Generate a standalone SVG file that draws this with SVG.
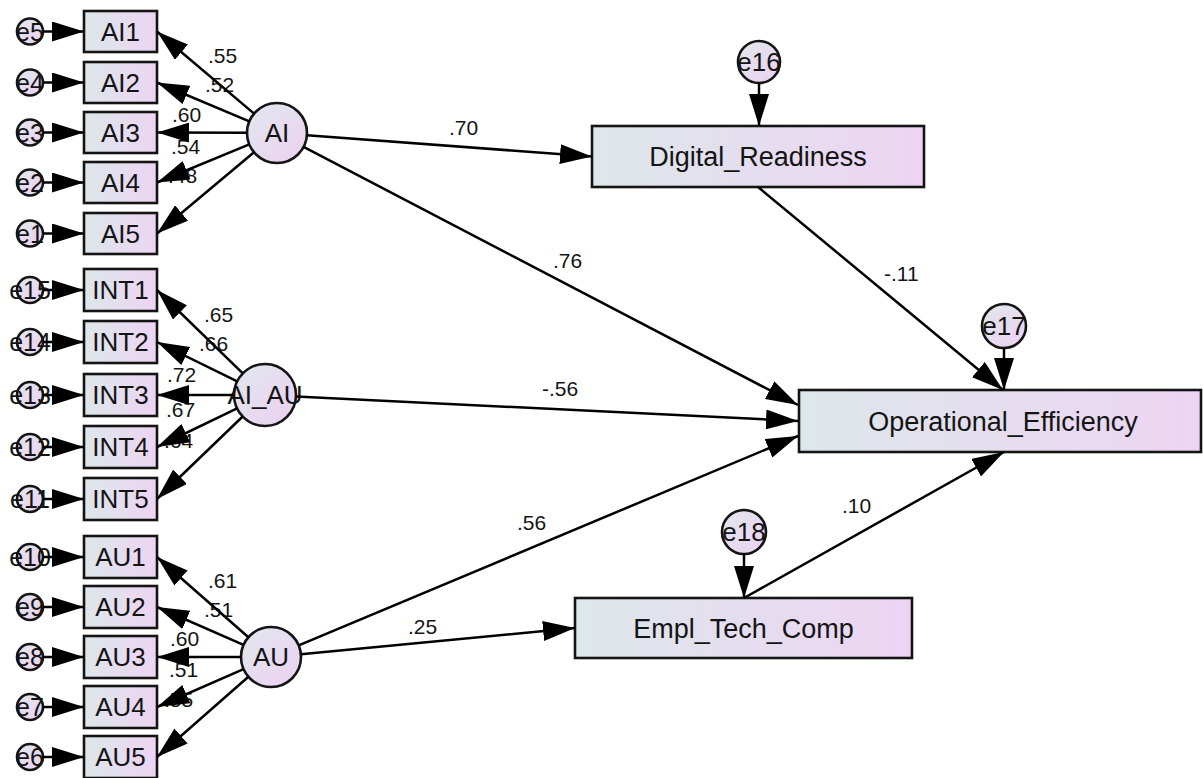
<svg xmlns="http://www.w3.org/2000/svg" width="1203" height="778" viewBox="0 0 1203 778">
  <defs>
    <linearGradient id="boxFill" x1="0" y1="0" x2="1" y2="0">
      <stop offset="0" stop-color="#dde7ea"/>
      <stop offset="1" stop-color="#edd4f3"/>
    </linearGradient>
    <linearGradient id="circFill" x1="0" y1="0" x2="1" y2="1">
      <stop offset="0" stop-color="#e1e8ee"/>
      <stop offset="1" stop-color="#ecd0f1"/>
    </linearGradient>
    <marker id="arrow" markerUnits="userSpaceOnUse" markerWidth="32" markerHeight="20" refX="32" refY="10" orient="auto">
      <path d="M0,0 L32,10 L0,20 Z" fill="#000"/>
    </marker>
    <style>
      .box { fill: url(#boxFill); stroke: #141414; stroke-width: 2.6; }
      .circ { fill: url(#circFill); stroke: #141414; stroke-width: 2.6; }
      .lbl { font-family: "Liberation Sans", Arial, sans-serif; font-size: 26px; fill: #141414; text-anchor: middle; }
      .big { font-family: "Liberation Sans", Arial, sans-serif; font-size: 27px; fill: #141414; text-anchor: middle; }
      .elbl { font-family: "Liberation Sans", Arial, sans-serif; font-size: 25px; fill: #141414; text-anchor: middle; }
      .coef { font-family: "Liberation Sans", Arial, sans-serif; font-size: 21px; fill: #141414; }
      .conn line { stroke: #000; stroke-width: 2.5; marker-end: url(#arrow); }
    </style>
  </defs>
  <rect width="1203" height="778" fill="#fff"/>

  <!-- AI indicators -->
  <g id="AI1"><rect class="box" x="84" y="11" width="73" height="41"/><text class="lbl" x="120.5" y="41">AI1</text></g>
  <g id="AI2"><rect class="box" x="84" y="62" width="73" height="41"/><text class="lbl" x="120.5" y="92">AI2</text></g>
  <g id="AI3"><rect class="box" x="84" y="112" width="73" height="41"/><text class="lbl" x="120.5" y="142">AI3</text></g>
  <g id="AI4"><rect class="box" x="84" y="162" width="73" height="41"/><text class="lbl" x="120.5" y="192">AI4</text></g>
  <g id="AI5"><rect class="box" x="84" y="213" width="73" height="41"/><text class="lbl" x="120.5" y="243">AI5</text></g>

  <!-- interaction indicators -->
  <g id="INT1"><rect class="box" x="84" y="269" width="73" height="42"/><text class="lbl" x="120.5" y="299">INT1</text></g>
  <g id="INT2"><rect class="box" x="84" y="321" width="73" height="42"/><text class="lbl" x="120.5" y="351">INT2</text></g>
  <g id="INT3"><rect class="box" x="84" y="374" width="73" height="42"/><text class="lbl" x="120.5" y="404">INT3</text></g>
  <g id="INT4"><rect class="box" x="84" y="426" width="73" height="42"/><text class="lbl" x="120.5" y="456">INT4</text></g>
  <g id="INT5"><rect class="box" x="84" y="478" width="73" height="42"/><text class="lbl" x="120.5" y="508">INT5</text></g>

  <!-- AU indicators -->
  <g id="AU1"><rect class="box" x="84" y="536" width="73" height="42"/><text class="lbl" x="120.5" y="566">AU1</text></g>
  <g id="AU2"><rect class="box" x="84" y="586" width="73" height="42"/><text class="lbl" x="120.5" y="616">AU2</text></g>
  <g id="AU3"><rect class="box" x="84" y="636" width="73" height="42"/><text class="lbl" x="120.5" y="666">AU3</text></g>
  <g id="AU4"><rect class="box" x="84" y="686" width="73" height="42"/><text class="lbl" x="120.5" y="716">AU4</text></g>
  <g id="AU5"><rect class="box" x="84" y="736" width="73" height="42"/><text class="lbl" x="120.5" y="766">AU5</text></g>

  <!-- indicator error terms -->
  <g id="e5"><circle class="circ" cx="30" cy="31.5" r="13"/><text class="elbl" x="30" y="40.5">e5</text></g>
  <g id="e4"><circle class="circ" cx="30" cy="82.5" r="13"/><text class="elbl" x="30" y="91.5">e4</text></g>
  <g id="e3"><circle class="circ" cx="30" cy="132.5" r="13"/><text class="elbl" x="30" y="141.5">e3</text></g>
  <g id="e2"><circle class="circ" cx="30" cy="182.5" r="13"/><text class="elbl" x="30" y="191.5">e2</text></g>
  <g id="e1"><circle class="circ" cx="30" cy="233.5" r="13"/><text class="elbl" x="30" y="242.5">e1</text></g>
  <g id="e15"><circle class="circ" cx="30" cy="290" r="13"/><text class="elbl" x="30" y="299">e15</text></g>
  <g id="e14"><circle class="circ" cx="30" cy="342" r="13"/><text class="elbl" x="30" y="351">e14</text></g>
  <g id="e13"><circle class="circ" cx="30" cy="395" r="13"/><text class="elbl" x="30" y="404">e13</text></g>
  <g id="e12"><circle class="circ" cx="30" cy="447" r="13"/><text class="elbl" x="30" y="456">e12</text></g>
  <g id="e11"><circle class="circ" cx="30" cy="499" r="13"/><text class="elbl" x="30" y="508">e11</text></g>
  <g id="e10"><circle class="circ" cx="30" cy="557" r="13"/><text class="elbl" x="30" y="566">e10</text></g>
  <g id="e9"><circle class="circ" cx="30" cy="607" r="13"/><text class="elbl" x="30" y="616">e9</text></g>
  <g id="e8"><circle class="circ" cx="30" cy="657" r="13"/><text class="elbl" x="30" y="666">e8</text></g>
  <g id="e7"><circle class="circ" cx="30" cy="707" r="13"/><text class="elbl" x="30" y="716">e7</text></g>
  <g id="e6"><circle class="circ" cx="30" cy="757" r="13"/><text class="elbl" x="30" y="766">e6</text></g>

  <!-- latent constructs -->
  <g id="AI"><circle class="circ" cx="277" cy="133" r="30"/><text class="lbl" x="277" y="142">AI</text></g>
  <g id="AI_AU"><circle class="circ" cx="265" cy="395" r="31"/><text class="lbl" x="265" y="404">AI_AU</text></g>
  <g id="AU"><circle class="circ" cx="271" cy="657" r="30"/><text class="lbl" x="271" y="666">AU</text></g>

  <!-- outcome variables -->
  <g id="Digital_Readiness"><rect class="box" x="592" y="126" width="332" height="61"/><text class="big" x="758" y="166">Digital_Readiness</text></g>
  <g id="Operational_Efficiency"><rect class="box" x="799" y="390" width="402" height="62"/><text class="big" x="1003" y="431">Operational_Efficiency</text></g>
  <g id="Empl_Tech_Comp"><rect class="box" x="575" y="598" width="337" height="60"/><text class="big" x="743.5" y="638">Empl_Tech_Comp</text></g>

  <!-- structural error terms -->
  <g id="e16"><circle class="circ" cx="759" cy="62" r="21"/><text class="lbl" x="759" y="71">e16</text></g>
  <g id="e17"><circle class="circ" cx="1004" cy="326" r="22"/><text class="lbl" x="1004" y="335">e17</text></g>
  <g id="e18"><circle class="circ" cx="744" cy="532" r="22"/><text class="lbl" x="744" y="541">e18</text></g>

  <!-- path coefficients -->
  <g id="coefficients">
    <text class="coef" x="208" y="63">.55</text>
    <text class="coef" x="205" y="92">.52</text>
    <text class="coef" x="172" y="122">.60</text>
    <text class="coef" x="171" y="154">.54</text>
    <text class="coef" x="168" y="183">.48</text>
    <text class="coef" x="204" y="322">.65</text>
    <text class="coef" x="199" y="351">.66</text>
    <text class="coef" x="167" y="382">.72</text>
    <text class="coef" x="166" y="417">.67</text>
    <text class="coef" x="164" y="448">.64</text>
    <text class="coef" x="208" y="588">.61</text>
    <text class="coef" x="204" y="617">.51</text>
    <text class="coef" x="170" y="646">.60</text>
    <text class="coef" x="169" y="677">.51</text>
    <text class="coef" x="164" y="707">.55</text>
    <text class="coef" x="449" y="135">.70</text>
    <text class="coef" x="553" y="268">.76</text>
    <text class="coef" x="884" y="281">-.11</text>
    <text class="coef" x="542" y="396">-.56</text>
    <text class="coef" x="517" y="530">.56</text>
    <text class="coef" x="842" y="513">.10</text>
    <text class="coef" x="408" y="634">.25</text>
  </g>

  <!-- connectors -->
  <g id="connectors" class="conn">
    <!-- error terms to indicators -->
    <line x1="43" y1="31.5" x2="84" y2="31.5"/>
    <line x1="43" y1="82.5" x2="84" y2="82.5"/>
    <line x1="43" y1="132.5" x2="84" y2="132.5"/>
    <line x1="43" y1="182.5" x2="84" y2="182.5"/>
    <line x1="43" y1="233.5" x2="84" y2="233.5"/>
    <line x1="43" y1="290" x2="84" y2="290"/>
    <line x1="43" y1="342" x2="84" y2="342"/>
    <line x1="43" y1="395" x2="84" y2="395"/>
    <line x1="43" y1="447" x2="84" y2="447"/>
    <line x1="43" y1="499" x2="84" y2="499"/>
    <line x1="43" y1="557" x2="84" y2="557"/>
    <line x1="43" y1="607" x2="84" y2="607"/>
    <line x1="43" y1="657" x2="84" y2="657"/>
    <line x1="43" y1="707" x2="84" y2="707"/>
    <line x1="43" y1="757" x2="84" y2="757"/>
    <!-- AI loadings -->
    <line x1="254.1" y1="113.6" x2="157" y2="31.5"/>
    <line x1="249.3" y1="121.4" x2="157" y2="82.5"/>
    <line x1="247" y1="132.8" x2="157" y2="132.5"/>
    <line x1="249.3" y1="144.4" x2="157" y2="182.5"/>
    <line x1="254" y1="152.3" x2="157" y2="233.5"/>
    <!-- AI_AU loadings -->
    <line x1="242.8" y1="373.4" x2="157" y2="290"/>
    <line x1="237.2" y1="381.3" x2="157" y2="342"/>
    <line x1="234" y1="395" x2="157" y2="395"/>
    <line x1="237.1" y1="408.4" x2="157" y2="447"/>
    <line x1="242.7" y1="416.5" x2="157" y2="499"/>
    <!-- AU loadings -->
    <line x1="248.4" y1="637.2" x2="157" y2="557"/>
    <line x1="243.5" y1="644.9" x2="157" y2="607"/>
    <line x1="241" y1="657" x2="157" y2="657"/>
    <line x1="243.5" y1="669.1" x2="157" y2="707"/>
    <line x1="248.4" y1="676.8" x2="157" y2="757"/>
    <!-- structural paths -->
    <line x1="306.9" y1="135.2" x2="592" y2="156.5"/>
    <line x1="303.6" y1="146.9" x2="798" y2="405"/>
    <line x1="296" y1="396.5" x2="798" y2="421"/>
    <line x1="298.7" y1="645.4" x2="798" y2="436"/>
    <line x1="300.9" y1="654.2" x2="575" y2="628"/>
    <line x1="758" y1="187" x2="1003" y2="390"/>
    <line x1="744" y1="598" x2="1004" y2="452"/>
    <!-- structural error terms -->
    <line x1="759" y1="83" x2="759" y2="126"/>
    <line x1="1004" y1="348" x2="1004" y2="390"/>
    <line x1="744" y1="554" x2="744" y2="598"/>
  </g>
</svg>
